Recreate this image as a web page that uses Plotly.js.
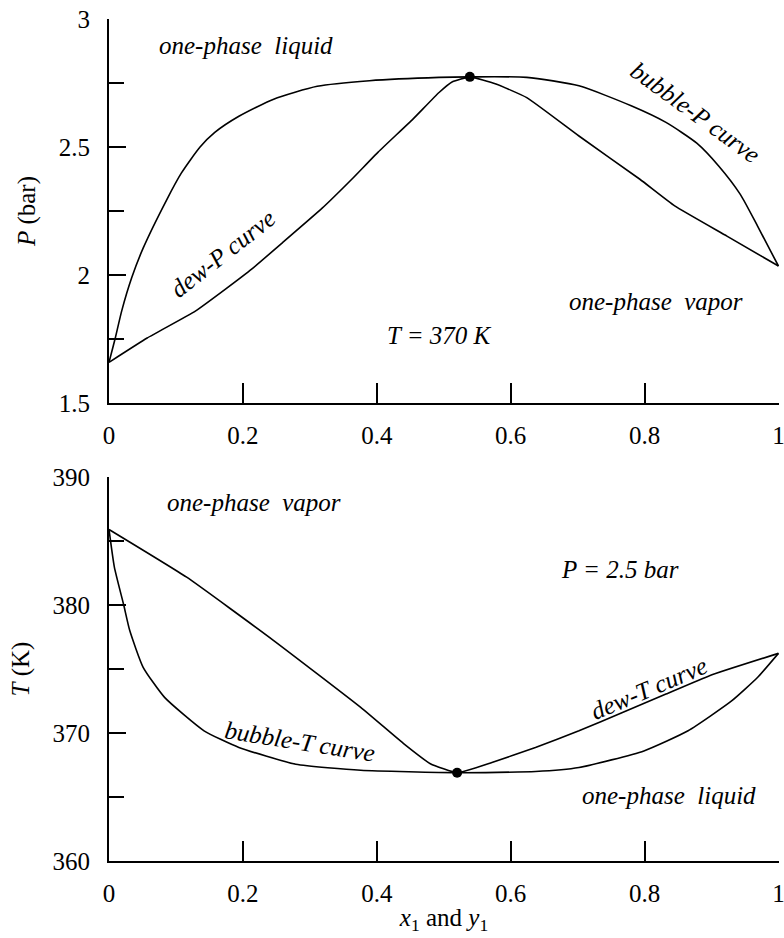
<!DOCTYPE html>
<html>
<head>
<meta charset="utf-8">
<script src="https://cdn.plot.ly/plotly-3.0.1.min.js"></script>
<style>html,body{margin:0;padding:0;background:#fff;}</style>
</head>
<body>
<div id="chart" style="width:784px;height:938px;"></div>
<script>
// ---- Top panel: P-x-y at T = 370 K ----
const bubbleP_x = [0, 0.009, 0.019, 0.034, 0.051, 0.086, 0.108, 0.136, 0.158, 0.194, 0.246, 0.311, 0.389, 0.493, 0.539, 0.624, 0.702, 0.78, 0.832, 0.878, 0.911, 0.943, 0.969, 1.0];
const bubbleP_y = [1.659, 1.75, 1.86, 1.99, 2.105, 2.293, 2.398, 2.5, 2.557, 2.62, 2.687, 2.737, 2.759, 2.772, 2.774, 2.772, 2.739, 2.661, 2.596, 2.515, 2.425, 2.315, 2.19, 2.035];
const dewP_x = [0, 0.057, 0.129, 0.174, 0.214, 0.259, 0.318, 0.363, 0.402, 0.454, 0.493, 0.513, 0.539, 0.578, 0.624, 0.702, 0.793, 0.845, 0.923, 1.0];
const dewP_y = [1.659, 1.754, 1.859, 1.945, 2.025, 2.126, 2.26, 2.375, 2.48, 2.609, 2.713, 2.755, 2.774, 2.746, 2.693, 2.543, 2.374, 2.27, 2.152, 2.035];
const azeoP = {x: [0.539], y: [2.774]};

// ---- Bottom panel: T-x-y at P = 2.5 bar ----
const dewT_x = [0, 0.116, 0.246, 0.376, 0.441, 0.480, 0.52, 0.572, 0.637, 0.702, 0.767, 0.832, 0.897, 1.0];
const dewT_y = [385.9, 382.17, 377.22, 372.0, 369.13, 367.6, 366.9, 367.7, 368.87, 370.17, 371.6, 373.04, 374.48, 376.22];
const bubbleT_x = [0, 0.008, 0.022, 0.031, 0.051, 0.083, 0.142, 0.194, 0.279, 0.376, 0.52, 0.637, 0.702, 0.799, 0.865, 0.930, 0.969, 1.0];
const bubbleT_y = [385.9, 382.96, 380.0, 378.0, 375.13, 372.78, 370.17, 368.87, 367.56, 367.09, 366.9, 366.99, 367.3, 368.6, 370.17, 372.5, 374.35, 376.22];
const azeoT = {x: [0.52], y: [366.9]};

// tick values / labels
const xTicks = [0, 0.2, 0.4, 0.6, 0.8, 1];
const xTickText = ['0', '0.2', '0.4', '0.6', '0.8', '1'];
const pTicks = [1.5, 2, 2.5, 3];
const pTickText = ['1.5', '2', '2.5', '3'];
const tTicks = [360, 370, 380, 390];
const tTickText = ['360', '370', '380', '390'];

const FONT = 'Liberation Serif, Times New Roman, serif';
const lineStyle = {color: '#000', width: 1.6};

const traces = [
  {x: bubbleP_x, y: bubbleP_y, xaxis: 'x', yaxis: 'y', mode: 'lines', line: Object.assign({shape: 'spline', smoothing: 0.6}, lineStyle), hoverinfo: 'skip'},
  {x: dewP_x, y: dewP_y, xaxis: 'x', yaxis: 'y', mode: 'lines', line: Object.assign({shape: 'spline', smoothing: 0.4}, lineStyle), hoverinfo: 'skip'},
  {x: azeoP.x, y: azeoP.y, xaxis: 'x', yaxis: 'y', mode: 'markers', marker: {color: '#000', size: 10}, cliponaxis: false},
  {x: dewT_x, y: dewT_y, xaxis: 'x2', yaxis: 'y2', mode: 'lines', line: Object.assign({shape: 'spline', smoothing: 0.4}, lineStyle), hoverinfo: 'skip'},
  {x: bubbleT_x, y: bubbleT_y, xaxis: 'x2', yaxis: 'y2', mode: 'lines', line: Object.assign({shape: 'spline', smoothing: 0.5}, lineStyle), hoverinfo: 'skip'},
  {x: azeoT.x, y: azeoT.y, xaxis: 'x2', yaxis: 'y2', mode: 'markers', marker: {color: '#000', size: 10}, cliponaxis: false}
];

function xAxis(anchor, title) {
  const a = {
    anchor: anchor, domain: [0, 1], range: [0, 1.0008], showgrid: false, zeroline: false,
    showline: true, linecolor: '#000', linewidth: 2, mirror: false,
    ticks: 'inside', ticklen: 20, tickwidth: 2, tickcolor: '#000',
    tickvals: xTicks, ticktext: xTickText, ticklabelstandoff: 9,
    ticklabeloverflow: 'allow',
    tickfont: {family: FONT, size: 25, color: '#000'}
  };
  if (title) a.title = {text: title, font: {family: FONT, size: 25, color: '#000'}, standoff: 2};
  return a;
}
function yAxis(anchor, domain, range, tv, tt, minorDt, title) {
  return {
    anchor: anchor, domain: domain, range: range, showgrid: false, zeroline: false,
    showline: true, linecolor: '#000', linewidth: 2,
    ticks: 'inside', ticklen: 17, tickwidth: 2, tickcolor: '#000',
    tickvals: tv, ticktext: tt, ticklabelstandoff: 12,
    ticklabeloverflow: 'allow',
    tickfont: {family: FONT, size: 25, color: '#000'},
    minor: {dtick: minorDt, ticks: 'inside', ticklen: 15, tickwidth: 2, tickcolor: '#000', showgrid: false},
    title: {text: title, font: {family: FONT, size: 25, color: '#000'}, standoff: 16}
  };
}

const labFont = {family: FONT, size: 25, color: '#000', style: 'italic'};
function lab(xref, yref, x, y, text, angle) {
  return {xref: xref, yref: yref, x: x, y: y, text: text, showarrow: false, textangle: angle || 0,
    font: labFont, xanchor: 'center', yanchor: 'middle'};
}

const annotations = [
  lab('x', 'y', 0.204, 2.898, 'one-phase\u00a0 liquid', 0),
  lab('x', 'y', 0.876, 2.635, 'bubble-P curve', 36),
  lab('x', 'y', 0.170, 2.085, 'dew-P curve', -38),
  lab('x', 'y', 0.817, 1.898, 'one-phase\u00a0 vapor', 0),
  lab('x', 'y', 0.494, 1.765, 'T = 370 K', 0),
  lab('x2', 'y2', 0.217, 388.0, 'one-phase\u00a0 vapor', 0),
  lab('x2', 'y2', 0.764, 382.8, 'P = 2.5 bar', 0),
  lab('x2', 'y2', 0.285, 369.3, 'bubble-T curve', 9),
  lab('x2', 'y2', 0.806, 373.5, 'dew-T curve', -23),
  lab('x2', 'y2', 0.837, 365.1, 'one-phase\u00a0 liquid', 0)
];

const layout = {
  width: 784, height: 938,
  margin: {l: 109, r: 5, t: 19, b: 77},
  paper_bgcolor: '#fff', plot_bgcolor: '#fff',
  showlegend: false,
  font: {family: FONT, color: '#000'},
  xaxis: xAxis('y', null),
  yaxis: yAxis('x', [0.5439, 1], [1.5, 3], pTicks, pTickText, 0.25, '<i>P</i> (bar)'),
  xaxis2: xAxis('y2', '<i>x</i><sub>1</sub> and <i>y</i><sub>1</sub>'),
  yaxis2: yAxis('x2', [0, 0.4561], [360, 390], tTicks, tTickText, 5, '<i>T</i> (K)'),
  annotations: annotations
};

Plotly.newPlot('chart', traces, layout, {staticPlot: true});
</script>
</body>
</html>
